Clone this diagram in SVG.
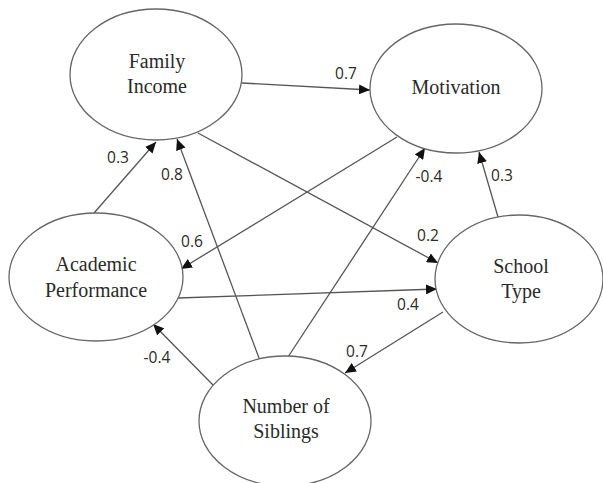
<svg xmlns="http://www.w3.org/2000/svg" width="603" height="483" viewBox="0 0 603 483">
<defs>
<marker id="ah" markerUnits="userSpaceOnUse" markerWidth="12" markerHeight="10" refX="11" refY="5" orient="auto">
<path d="M0,0 L11,5 L0,10 Z" fill="#111"/>
</marker>
<style>
.node ellipse{fill:#fff;stroke:#666;stroke-width:1.3}
.node text{font-size:20px;fill:#2a2a2a;text-anchor:middle}
.edges line{stroke:#555;stroke-width:1.3;marker-end:url(#ah)}
.lbl text{font-size:15.5px;fill:#2a2a2a;text-anchor:middle}
</style>
</defs>
<rect width="603" height="483" fill="#fff"/>
<g id="edges" class="edges">
<line x1="242" y1="83" x2="370" y2="90"/>
<line x1="94" y1="213" x2="156" y2="142"/>
<line x1="259" y1="358" x2="177" y2="139"/>
<line x1="198" y1="133" x2="438" y2="263"/>
<line x1="397" y1="137" x2="181" y2="269"/>
<line x1="288" y1="357" x2="425" y2="148"/>
<line x1="498" y1="217" x2="479" y2="152"/>
<line x1="178" y1="298" x2="437" y2="289"/>
<line x1="443" y1="312" x2="345" y2="373"/>
<line x1="213" y1="385" x2="153" y2="324"/>
</g>
<g id="family-income" class="node" font-family="'Liberation Serif', 'DejaVu Serif', serif">
<ellipse cx="156" cy="74.5" rx="86" ry="65.5"/>
<text x="157" y="68">Family</text>
<text x="157" y="93">Income</text>
</g>
<g id="motivation" class="node" font-family="'Liberation Serif', 'DejaVu Serif', serif">
<ellipse cx="456" cy="88.5" rx="86" ry="64.5"/>
<text x="456" y="94">Motivation</text>
</g>
<g id="academic-performance" class="node" font-family="'Liberation Serif', 'DejaVu Serif', serif">
<ellipse cx="96" cy="277" rx="87" ry="64"/>
<text x="96" y="271">Academic</text>
<text x="96" y="297">Performance</text>
</g>
<g id="school-type" class="node" font-family="'Liberation Serif', 'DejaVu Serif', serif">
<ellipse cx="519" cy="279" rx="84" ry="64"/>
<text x="521" y="273">School</text>
<text x="521" y="298">Type</text>
</g>
<g id="number-of-siblings" class="node" font-family="'Liberation Serif', 'DejaVu Serif', serif">
<ellipse cx="285" cy="421" rx="86" ry="65"/>
<text x="286" y="413">Number of</text>
<text x="286" y="438">Siblings</text>
</g>
<g id="labels" class="lbl" font-family="'Open Sans', 'Liberation Sans', sans-serif">
<text x="118" y="163">0.3</text>
<text x="172" y="180">0.8</text>
<text x="346" y="79">0.7</text>
<text x="429" y="182">-0.4</text>
<text x="502" y="181">0.3</text>
<text x="192" y="247">0.6</text>
<text x="157" y="363">-0.4</text>
<text x="428" y="241">0.2</text>
<text x="408" y="310">0.4</text>
<text x="357" y="357">0.7</text>
</g>
</svg>
